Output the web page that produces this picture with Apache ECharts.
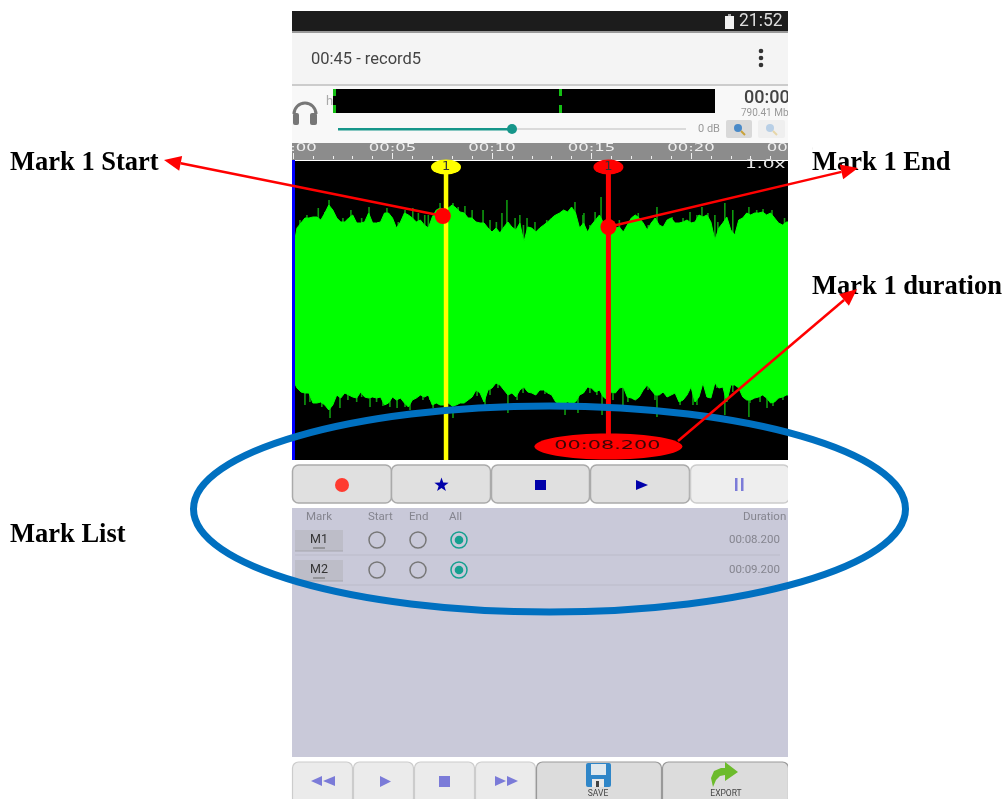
<!DOCTYPE html>
<html><head><meta charset="utf-8">
<style>html,body{margin:0;padding:0;background:#fff}#c{width:1005px;height:799px}</style>
<script src="https://cdn.jsdelivr.net/npm/echarts@6/dist/echarts.min.js"></script>
</head><body><div id="c"></div>
<script>
// waveform envelope, one value per 0.2 s
const stepSeconds = 0.2;
const upperBody = [60,82,87,92,92,93,93,90,97,105,100,92,88,88,92,95,87,87,88,97,87,87,88,97,97,92,82,88,97,95,92,88,90,85,82,93,100,102,100,102,105,102,98,97,92,92,88,87,87,82,78,82,77,83,88,83,80,87,68,83,82,78,
82,85,88,92,95,97,100,98,103,97,82,87,78,85,90,95,87,83,87,82,83,78,85,92,95,92,87,80,87,92,85,83,90,92,87,87,88,90,87,88,95,93,95,88,70,82,87,93,80,75,90,92,97,95,97,97,98,95,97,92,87,85,88,88];
const lowerBody = [-70,-78,-82,-83,-83,-93,-93,-92,-95,-100,-95,-85,-88,-83,-85,-87,-88,-82,-87,-88,-87,-88,-87,-95,-93,-87,-90,-88,-93,-97,-90,-88,-85,-87,-85,-95,-93,-95,-95,-93,-96,-95,-93,-93,-90,-87,-80,-83,-92,-80,-78,-73,-75,-80,-85,-83,-87,-80,-77,-82,-83,-85,
-80,-80,-83,-85,-92,-93,-93,-92,-93,-92,-85,-83,-77,-78,-82,-80,-87,-90,-82,-83,-78,-77,-87,-88,-90,-87,-80,-75,-80,-85,-85,-82,-87,-85,-83,-92,-90,-85,-77,-92,-87,-73,-87,-88,-73,-78,-77,-92,-75,-75,-78,-87,-90,-90,-88,-87,-85,-88,-93,-92,-88,-87,-85,-85];
const upperSpikes = [[0.35,90],[0.7,95],[1.27,102],[1.6,98],[1.81,110],[2.51,92],[2.91,100],[3.45,92],[3.82,103],[4.29,88],[4.72,102],[5.29,88],[5.63,100],[6.02,102],[6.3,97],[6.62,95],[6.8,95],[7.39,107],[8.04,107],[8.3,103],[8.64,104],[9,100],[9.55,100],[9.9,90],[10.22,88],[10.5,97],[10.75,110],[11.16,92],[11.4,95],[11.58,85],[11.76,92],[12.16,88],[12.75,90],[13.17,95],[14.17,108],[14.57,95],[14.62,97],[14.92,85],[15.18,98],[15.48,113],[16.4,90],[16.85,85],[17.35,97],[17.85,85],[18.29,103],[19.05,93],[19.6,92],[19.95,98],[20.3,95],[20.55,103],[20.85,97],[21.2,95],[21.35,88],[21.7,107],[22.1,100],[22.6,92],[22.91,103],[23.3,100],[23.62,101],[24.07,100],[24.7,92]];
const lowerSpikes = [[0.6,-95],[0.85,-92],[1.45,-97],[1.86,-108],[2.36,-98],[2.76,-90],[3.2,-92],[3.45,-87],[3.87,-97],[4.2,-92],[4.52,-96],[4.87,-97],[5.23,-98],[5.63,-97],[5.88,-100],[6.53,-90],[6.88,-90],[7.04,-98],[8.04,-108],[9.25,-86],[9.65,-97],[9.9,-85],[10.3,-78],[10.8,-103],[11.26,-90],[11.56,-83],[12.66,-84],[13.27,-95],[13.67,-105],[14.32,-103],[14.92,-83],[15.27,-85],[15.53,-105],[16.08,-90],[16.58,-95],[16.83,-92],[17.84,-80],[18.19,-90],[18.29,-107],[18.79,-87],[19.45,-95],[20.1,-95],[20.3,-95],[21.3,-78],[21.7,-105],[22.1,-82],[22.91,-107],[22.96,-93],[23.47,-92],[23.82,-98],[24.12,-96],[24.62,-90]];
// marks
const markStart = 7.69, markEnd = 15.85, markLabel = '1', markDuration = '00:08.200';
const startDot = [7.53, 94], endDot = [15.85, 83];
// ruler
const rulerTicks = [0,5,10,15,20,25];
const rulerLabels = ['00:00','00:05','00:10','00:15','00:20','00:25'];
// list
const listRows = [['M1','00:08.200'],['M2','00:09.200']];
const listHeads = ['Mark','Start','End','All','Duration'];
const overviewMarks = [333, 559];
const title = '00:45 - record5';

const UI='Roboto', TXT=(s,x,y,size,fill,o={})=>({type:'text',z:o.z??1,x,y,scaleX:o.sx||1,style:{text:s,x:0,y:0,font:`${o.weight||'normal'} ${size}px ${o.family||UI}`,fill,textAlign:o.align||'left',align:o.align||'left',textVerticalAlign:'middle',verticalAlign:'middle'}});
const R=(x,y,w,h,fill,o={})=>({type:'rect',z:o.z??0,shape:{x,y,width:w,height:h,r:o.r||0},style:{fill,stroke:o.stroke||null,lineWidth:o.lw||1}});
const C=(cx,cy,r,fill,o={})=>({type:'circle',z:o.z??1,shape:{cx,cy,r},style:{fill,stroke:o.stroke||null,lineWidth:o.lw||1}});
const P=(pts,fill,o={})=>({type:'polygon',z:o.z??1,shape:{points:pts},style:{fill}});
const L=(x1,y1,x2,y2,stroke,lw,o={})=>({type:'line',z:o.z??1,shape:{x1,y1,x2,y2},style:{stroke,lineWidth:lw,lineCap:o.cap||'butt'}});
function arrow(x1,y1,x2,y2){
  const a=Math.atan2(y2-y1,x2-x1),h=17,w=7.5,bx=x2-h*Math.cos(a),by=y2-h*Math.sin(a),nx=-Math.sin(a)*w,ny=Math.cos(a)*w;
  return [L(x1,y1,bx,by,'#ff0000',2.5,{z:102}),P([[x2,y2],[bx+nx,by+ny],[bx-nx,by-ny]],'#ff0000',{z:102})];
}
const g=[];
// status and toolbar
g.push(R(292,11,496,20,'#1c1c1c',{z:-1}),R(292,31,496,2,'#999',{z:-1}),R(292,33,496,52,'#f4f4f4',{z:-1}),R(292,84,496,2,'#ccc',{z:-1}),R(292,86,496,57,'#f8f8f8',{z:-1}));
g.push(R(725,16,9,13,'#f2f2f2',{z:-1}),R(728,14,3,2,'#aaa',{z:-1}),TXT('21:52',739,22,17.5,'#dcdcdc',{z:-1}));
g.push(TXT(title,311,59.5,16.5,'#444',{z:-1}));
[51,58,65].forEach(y=>g.push(C(761,y,2.3,'#333',{z:-1})));
// headphones
g.push({type:'arc',z:-1,shape:{cx:305,cy:114,r:11,startAngle:Math.PI,endAngle:0,clockwise:true},style:{stroke:'#777',lineWidth:3,fill:null}});
g.push(R(293,113,6,12,'#777',{z:-1,r:2}),R(310,113,7,12,'#777',{z:-1,r:2}),TXT('h',326,102,13,'#aaa',{z:-1}));
// overview
g.push(R(333,89,382,24,'#000',{z:-1}));
overviewMarks.forEach(x=>g.push(R(x,89,3,7,'#14c014',{z:-1}),R(x,105,3,8,'#14c014',{z:-1})));
g.push(TXT('00:00',744,98,18,'#444',{z:-1,weight:500}),TXT('790.41 Mb',741,113.5,10,'#999',{z:-1}));
// slider
g.push(R(338,128,174,2.5,'#16968a',{z:-1}),R(512,128.5,174,1,'#bbb',{z:-1}),C(512,129,5,'#16968a',{z:-1}),TXT('0 dB',698,129,11,'#999',{z:-1}));
g.push(R(726,120,26,18,'#d9d9d9',{z:-1,r:2}),R(758,120,27,18,'#efefef',{z:-1,r:2}));
[[739,'#4a8ac8','#c9a23a'],[771,'#b8cfe6','#e6d6a8']].forEach(([x,c,h])=>g.push(C(x-1,128,4,c,{z:-1}),L(x+2,131,x+6,135,h,2,{z:-1})));
// ruler band and waveform frame
g.push(R(292,143,496,17,'#8c8c8c',{z:-1}),R(292,160,3,300,'#0000ff',{z:10}));
g.push(TXT('1.0x',745,165,12,'#e6e6e6',{z:10,sx:1.55,family:'DejaVu Sans'}));
// transport row
[[292,99],[391,99],[491,98],[590,99]].forEach(([x,w])=>g.push(R(x+.5,465,w,38,'#e0e0e0',{stroke:'#aaa',lw:1.5,r:6,z:-1})));
g.push(R(690.5,465,99,38,'#eeeeee',{stroke:'#ccc',lw:1.5,r:6,z:-1}));
g.push(C(342,485,7,'#ff3b30'));
g.push({type:'polygon',z:1,shape:{points:(()=>{const p=[];for(let i=0;i<10;i++){const r=i%2?3:7.5,a=-Math.PI/2+i*Math.PI/5;p.push([441.5+r*Math.cos(a),485+r*Math.sin(a)]);}return p;})()},style:{fill:'#0000aa'}});
g.push(R(535,480,11,10,'#0000aa',{z:1}),P([[636,480],[636,490],[648,485]],'#0000aa'),R(735,478,2.5,13,'#7b7bd8',{z:1}),R(741,478,2.5,13,'#7b7bd8',{z:1}));
// list
g.push(R(292,508,496,249,'#c9c9d9',{z:-1}));
[[listHeads[0],306],[listHeads[1],368],[listHeads[2],409],[listHeads[3],449],[listHeads[4],743]].forEach(([t,x])=>g.push(TXT(t,x,517,11.5,'#85858f')));
listRows.forEach(([m,d],i)=>{
  const y=540+i*30;
  g.push(R(295,y-10,48,21,'#bdbdc8',{z:0}),L(295,y+11,343,y+11,'#a5a5ad',1),TXT(m,319,y,12.5,'#333',{align:'center'}),L(313,y+8,325,y+8,'#777',1.2));
  g.push(C(377,y,8,null,{stroke:'#777',lw:1.5}),C(418,y,8,null,{stroke:'#777',lw:1.5}),C(459,y,8,null,{stroke:'#16a090',lw:1.5}),C(459,y,4.3,'#16a090'));
  g.push(TXT(d,780,y,11.5,'#85858f',{align:'right'}),L(295,y+15,780,y+15,'#bbbbc9',1));
});
// bottom bar
[[292,60],[353,60],[414,60],[475,60]].forEach(([x,w])=>g.push(R(x+.5,762,w,42,'#ebebeb',{stroke:'#ccc',lw:1.2,r:6,z:-1})));
[[536,125],[662,126]].forEach(([x,w])=>g.push(R(x+.5,762,w,42,'#dcdcdc',{stroke:'#999',lw:1.2,r:6,z:-1})));
const pv='#7b7bd8';
g.push(P([[311,781],[322,776],[322,786]],pv),P([[323,781],[335,776],[335,786]],pv));
g.push(P([[380,776],[380,787],[391,781.5]],pv),R(439,776,11,11,pv,{z:1}));
g.push(P([[495,776],[495,786],[506,781]],pv),P([[507,776],[507,786],[518,781]],pv));
g.push(R(586,763,25,24,'#2f86c8',{z:1,r:2}),R(591,764,15,11,'#dfe8ee',{z:1}),R(592,779,12,8,'#e8e8e8',{z:1}),R(596,781,3,6,'#444',{z:1}));
g.push(TXT('SAVE',598,794,8.5,'#444',{align:'center'}),TXT('EXPORT',726,794,8.5,'#444',{align:'center'}));
g.push(P([[713,787],[711,778],[714,771],[721,768],[725,768],[725,762],[738,772],[725,781],[725,775],[720,776],[716,780]],'#6cbb2c'));
// edge covers so content is cut at the phone's edge
g.push(R(788,11,24,788,'#fff',{z:50}),R(270,143,22,18,'#fff',{z:50}));
// annotations
g.push({type:'ellipse',z:100,shape:{cx:549.5,cy:509,rx:356,ry:103},style:{fill:null,stroke:'#0070c0',lineWidth:7}});
g.push(...arrow(443,216,164,160),...arrow(608,227,858,168),...arrow(678,441,857,289));
const AF={z:101,family:'Liberation Serif',weight:'bold'};
g.push(TXT('Mark 1 Start',10,163,26.5,'#000',AF),TXT('Mark 1 End',812,163,26.5,'#000',AF),TXT('Mark 1 duration',812,287,26.5,'#000',AF),TXT('Mark List',10,535,26.5,'#000',AF));

const times = upperBody.map((_,i)=>+(i*stepSeconds).toFixed(1));
const wave=(name,arr)=>({name,type:'line',z:2,silent:true,showSymbol:false,symbol:'none',data:arr.map((v,i)=>[times[i],v]),lineStyle:{width:1,color:'#00ff00'},areaStyle:{color:'#00ff00',opacity:1},animation:false});
const spikes=(name,arr)=>({name,type:'bar',z:1,barWidth:1.6,barGap:'-100%',silent:true,data:arr,itemStyle:{color:'#0f9a0f'},animation:false});
const vline=(t,top,bot,color,w)=>({type:'line',z:4,silent:true,symbol:'none',data:[[t,top],[t,bot]],lineStyle:{color,width:w},animation:false});
const flag=(t,color)=>({type:'scatter',z:5,silent:true,symbol:'circle',symbolSize:[30,15],data:[[t,143]],itemStyle:{color,opacity:1},label:{show:true,position:'inside',formatter:markLabel,color:'#333',fontSize:13,fontFamily:'DejaVu Sans'},clip:false,animation:false});

const chart=echarts.init(document.getElementById('c'),null,{renderer:'canvas'});
chart.setOption({
  animation:false,backgroundColor:'#fff',
  grid:{left:293,top:161,width:497.5,height:299,show:true,backgroundColor:'#000',borderWidth:0},
  xAxis:{type:'value',position:'top',min:0,max:25,interval:5,offset:2,z:5,
    axisLine:{show:false,onZero:false},axisLabel:{show:false},splitLine:{show:false},
    axisTick:{show:true,length:6,lineStyle:{color:'#f0f0f0',width:1}},
    minorTick:{show:true,splitNumber:5,length:3,lineStyle:{color:'#f0f0f0',width:1}}},
  yAxis:{type:'value',min:-150,max:149,show:false,splitLine:{show:false}},
  graphic:{elements:g},
  series:[
    spikes('upperSpikes',upperSpikes),spikes('lowerSpikes',lowerSpikes),
    wave('upper',upperBody),wave('lower',lowerBody),
    vline(markStart,143,-150,'#ffff00',4.5),vline(markEnd,143,-125,'#ff0000',5),
    flag(markStart,'#ffff00'),flag(markEnd,'#ff0000'),
    {type:'scatter',z:6,silent:true,symbol:'circle',symbolSize:16,data:[startDot,endDot],itemStyle:{color:'#ff0000',opacity:1},animation:false},
    {type:'custom',z:6,silent:true,clip:false,data:[[markEnd,-136.5]],renderItem:(p,api)=>{
      const c=api.coord([api.value(0),api.value(1)]);
      return {type:'group',children:[
        {type:'ellipse',shape:{cx:c[0],cy:c[1],rx:74,ry:13},style:{fill:'#ff0000'}},
        {type:'text',x:c[0]-1,y:c[1]-1,scaleX:1.6,style:{text:markDuration,font:'13px DejaVu Sans',fill:'#3a0505',align:'center',verticalAlign:'middle',textAlign:'center',textVerticalAlign:'middle'}}
      ]};
    },animation:false},
    {type:'custom',z:3,silent:true,clip:false,data:rulerTicks.map((t,i)=>[t,i]),renderItem:(p,api)=>{
      const c=api.coord([api.value(0),149]);
      return {type:'text',x:c[0],y:c[1]-13,scaleX:1.65,style:{text:rulerLabels[api.value(1)],font:'10px DejaVu Sans',fill:'#eeeeee',align:'center',verticalAlign:'middle',textAlign:'center',textVerticalAlign:'middle'}};
    },animation:false}
  ]
});
</script></body></html>
